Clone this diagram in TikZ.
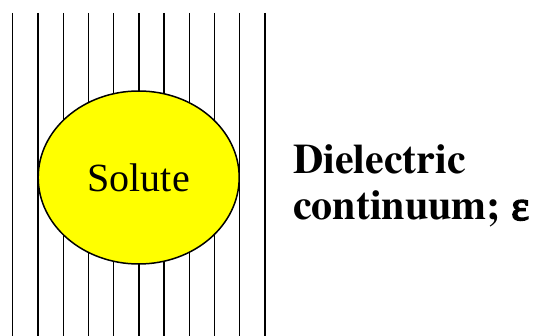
\documentclass[tikz,border=0pt]{standalone}
\usepackage{fontspec}
\setmainfont{Liberation Serif}
\newfontfamily\heavyserif{texgyretermes-bold}[Extension=.otf]
\newfontfamily\heavygreek{Liberation Serif}[FakeBold=4]
\usetikzlibrary{shapes.geometric,positioning}
\definecolor{soluteyellow}{RGB}{255,255,0}
\tikzset{
  field line/.style={line width=1.3pt,black},
  solute ball/.style={ellipse,draw,line width=1.5pt,fill=soluteyellow,
    minimum width=201pt,minimum height=173pt,inner sep=0pt,
    font=\fontsize{40}{48}\selectfont},
  big label/.style={anchor=base west,inner sep=0pt,
    font=\fontsize{42}{46}\selectfont\heavyserif},
}
\begin{document}
\begin{tikzpicture}[x=1pt,y=-1pt]
\useasboundingbox (0,0) rectangle (533,336);
% lines of the dielectric
\foreach \i in {0,...,10}
  \draw[field line] (12.7+25.23*\i,13) -- (12.7+25.23*\i,336);
% the solute cavity
\node[solute ball] (solute) at (138.7,177.5) {Solute};
\node[big label] (diel) at (293,174) {Dielectric};
\node[big label] (cont) at (293,220) {continuum; {\heavygreek ε}};
\end{tikzpicture}
\end{document}
